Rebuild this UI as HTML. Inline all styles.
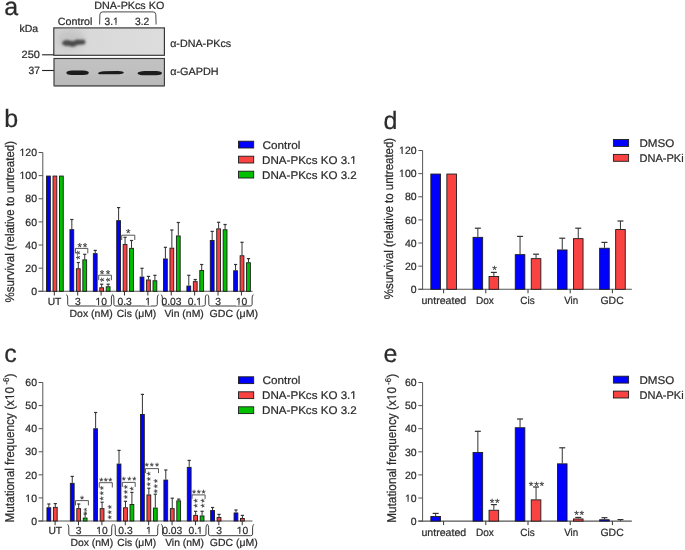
<!DOCTYPE html>
<html><head><meta charset="utf-8"><style>
html,body{margin:0;padding:0;background:#fff;}
svg{display:block;opacity:0.999;}
text{font-family:"Liberation Sans",sans-serif;stroke:#2b2b2b;stroke-width:0.22px;text-rendering:geometricPrecision;}
</style></head><body>
<svg width="685" height="550" viewBox="0 0 685 550">
<rect width="685" height="550" fill="#fff"/>
<text x="4.14" y="15.0" font-size="25" fill="#2b2b2b">a</text>
<text x="4.29" y="127.0" font-size="25" fill="#2b2b2b">b</text>
<text x="4.34" y="362.2" font-size="25" fill="#2b2b2b">c</text>
<text x="383.45" y="129.0" font-size="25" fill="#2b2b2b">d</text>
<text x="383.44" y="362.4" font-size="25" fill="#2b2b2b">e</text>
<text x="19.41" y="31.70" font-size="10.3" fill="#2b2b2b" textLength="18.69" lengthAdjust="spacingAndGlyphs" >kDa</text>
<text x="57.77" y="24.50" font-size="10.5" fill="#2b2b2b" textLength="34.54" lengthAdjust="spacingAndGlyphs" >Control</text>
<text x="94.34" y="9.00" font-size="10.5" fill="#2b2b2b" textLength="69.96" lengthAdjust="spacingAndGlyphs" >DNA-PKcs KO</text>
<text x="104.50" y="24.50" font-size="10.5" fill="#2b2b2b" textLength="14.11" lengthAdjust="spacingAndGlyphs" >3.1</text>
<text x="135.00" y="24.50" font-size="10.5" fill="#2b2b2b" textLength="14.33" lengthAdjust="spacingAndGlyphs" >3.2</text>
<path d="M99.6,24.5 L99.9,14.5 Q100.2,11.9 102.6,11.9 L153.2,11.9 Q155.6,11.9 155.8,14.5 L156.1,24.5" stroke="#333" stroke-width="0.9" fill="none"/>
<text x="21.57" y="57.70" font-size="10.5" fill="#2b2b2b" textLength="18.34" lengthAdjust="spacingAndGlyphs" >250</text>
<text x="28.60" y="73.80" font-size="10.5" fill="#2b2b2b" textLength="11.43" lengthAdjust="spacingAndGlyphs" >37</text>
<line x1="42.10" y1="54.80" x2="54.00" y2="54.80" stroke="#222" stroke-width="1.1"/>
<line x1="42.10" y1="70.50" x2="54.00" y2="70.50" stroke="#222" stroke-width="1.1"/>
<text x="170.16" y="46.50" font-size="10.5" fill="#2b2b2b" textLength="61.02" lengthAdjust="spacingAndGlyphs" >α-DNA-PKcs</text>
<text x="170.16" y="74.50" font-size="10.5" fill="#2b2b2b" textLength="48.40" lengthAdjust="spacingAndGlyphs" >α-GAPDH</text>

<defs>
<linearGradient id="g1" x1="0" x2="1" y1="0" y2="0">
<stop offset="0" stop-color="#d2d2d2"/><stop offset="0.3" stop-color="#d9d9d9"/><stop offset="1" stop-color="#dddddd"/></linearGradient>
<linearGradient id="g2" x1="0" x2="0" y1="0" y2="1">
<stop offset="0" stop-color="#c2c2c2"/><stop offset="0.5" stop-color="#bfbfbf"/><stop offset="1" stop-color="#b8b8b8"/></linearGradient>
<filter id="bl1" filterUnits="userSpaceOnUse" x="40" y="20" width="140" height="80"><feGaussianBlur stdDeviation="1.15"/></filter>
<filter id="bl2" filterUnits="userSpaceOnUse" x="40" y="20" width="140" height="80"><feGaussianBlur stdDeviation="0.75"/></filter>
<filter id="bl3" filterUnits="userSpaceOnUse" x="40" y="20" width="140" height="80"><feGaussianBlur stdDeviation="3"/></filter>
</defs>
<rect x="53.8" y="27.9" width="110.6" height="27.4" fill="url(#g1)" stroke="#333" stroke-width="1.15"/>
<ellipse cx="71" cy="39" rx="14" ry="10" fill="#b4b4b4" filter="url(#bl3)" opacity="0.45"/>
<g filter="url(#bl1)" fill="#4c4c4c">
<ellipse cx="67.2" cy="43.0" rx="5.2" ry="3.0"/>
<ellipse cx="72.5" cy="43.8" rx="4.4" ry="3.0"/>
<ellipse cx="78" cy="42.2" rx="4.2" ry="2.7"/>
<ellipse cx="82.4" cy="42" rx="3.0" ry="2.6"/>
</g>
<rect x="54.0" y="58.5" width="110.4" height="27.3" fill="url(#g2)" stroke="#3a3a3a" stroke-width="1.15"/>
<line x1="54" y1="85.8" x2="164.4" y2="85.8" stroke="#666" stroke-width="1.2"/>
<g filter="url(#bl2)" fill="#1a1a1a">
<path d="M66.3,72.7 Q66.8,70.5 72,70.4 L83,70.4 Q88.6,70.6 88.8,72.7 Q88.6,74.9 83,74.9 L72,74.9 Q66.8,74.9 66.3,72.7 Z"/>
<path d="M97.9,73.4 Q99,71.6 104,71.3 L118,70.9 Q123.6,71.0 123.8,72.6 Q123.4,74.4 118,74.3 L104,74.2 Q99,74.7 97.9,73.4 Z"/>
<path d="M137.4,73.2 Q138.5,71.0 145,70.9 L156,70.9 Q161.8,71.1 162.0,73.1 Q161.6,75.3 156,75.3 L145,75.3 Q138.5,75.4 137.4,73.2 Z"/>
</g>

<line x1="42.80" y1="152.50" x2="42.80" y2="291.80" stroke="#555" stroke-width="1"/>
<line x1="38.30" y1="291.30" x2="252.50" y2="291.30" stroke="#555" stroke-width="1.1"/>
<line x1="38.60" y1="291.30" x2="42.80" y2="291.30" stroke="#555" stroke-width="1"/>
<text x="31.17" y="295.00" font-size="10.5" fill="#2b2b2b" textLength="5.84" lengthAdjust="spacingAndGlyphs" >0</text>
<line x1="38.60" y1="268.17" x2="42.80" y2="268.17" stroke="#555" stroke-width="1"/>
<text x="25.33" y="271.87" font-size="10.5" fill="#2b2b2b" textLength="11.68" lengthAdjust="spacingAndGlyphs" >20</text>
<line x1="38.60" y1="245.03" x2="42.80" y2="245.03" stroke="#555" stroke-width="1"/>
<text x="25.33" y="248.73" font-size="10.5" fill="#2b2b2b" textLength="11.68" lengthAdjust="spacingAndGlyphs" >40</text>
<line x1="38.60" y1="221.90" x2="42.80" y2="221.90" stroke="#555" stroke-width="1"/>
<text x="25.33" y="225.60" font-size="10.5" fill="#2b2b2b" textLength="11.68" lengthAdjust="spacingAndGlyphs" >60</text>
<line x1="38.60" y1="198.77" x2="42.80" y2="198.77" stroke="#555" stroke-width="1"/>
<text x="25.33" y="202.47" font-size="10.5" fill="#2b2b2b" textLength="11.68" lengthAdjust="spacingAndGlyphs" >80</text>
<line x1="38.60" y1="175.63" x2="42.80" y2="175.63" stroke="#555" stroke-width="1"/>
<text x="19.49" y="179.33" font-size="10.5" fill="#2b2b2b" textLength="17.52" lengthAdjust="spacingAndGlyphs" >100</text>
<line x1="38.60" y1="152.50" x2="42.80" y2="152.50" stroke="#555" stroke-width="1"/>
<text x="19.49" y="156.20" font-size="10.5" fill="#2b2b2b" textLength="17.52" lengthAdjust="spacingAndGlyphs" >120</text>
<rect x="46.55" y="176.05" width="3.80" height="115.25" fill="#0000ff" stroke="#1c1c1c" stroke-width="0.9"/>
<rect x="53.00" y="176.05" width="3.80" height="115.25" fill="#f94242" stroke="#1c1c1c" stroke-width="0.9"/>
<rect x="59.45" y="176.05" width="3.80" height="115.25" fill="#00c000" stroke="#1c1c1c" stroke-width="0.9"/>
<rect x="69.94" y="229.65" width="3.80" height="61.65" fill="#0000ff" stroke="#1c1c1c" stroke-width="0.9"/>
<line x1="71.84" y1="229.20" x2="71.84" y2="219.50" stroke="#333" stroke-width="1"/>
<line x1="70.24" y1="219.50" x2="73.44" y2="219.50" stroke="#333" stroke-width="1.2"/>
<rect x="76.39" y="268.75" width="3.80" height="22.55" fill="#f94242" stroke="#1c1c1c" stroke-width="0.9"/>
<line x1="78.29" y1="268.30" x2="78.29" y2="262.50" stroke="#333" stroke-width="1"/>
<line x1="76.69" y1="262.50" x2="79.89" y2="262.50" stroke="#333" stroke-width="1.2"/>
<rect x="82.84" y="259.85" width="3.80" height="31.45" fill="#00c000" stroke="#1c1c1c" stroke-width="0.9"/>
<line x1="84.74" y1="259.40" x2="84.74" y2="254.30" stroke="#333" stroke-width="1"/>
<line x1="83.14" y1="254.30" x2="86.34" y2="254.30" stroke="#333" stroke-width="1.2"/>
<rect x="93.33" y="253.65" width="3.80" height="37.65" fill="#0000ff" stroke="#1c1c1c" stroke-width="0.9"/>
<line x1="95.23" y1="253.20" x2="95.23" y2="250.40" stroke="#333" stroke-width="1"/>
<line x1="93.63" y1="250.40" x2="96.83" y2="250.40" stroke="#333" stroke-width="1.2"/>
<rect x="99.78" y="287.75" width="3.80" height="3.55" fill="#f94242" stroke="#1c1c1c" stroke-width="0.9"/>
<line x1="101.68" y1="287.30" x2="101.68" y2="284.20" stroke="#333" stroke-width="1"/>
<line x1="100.08" y1="284.20" x2="103.28" y2="284.20" stroke="#333" stroke-width="1.2"/>
<rect x="106.23" y="286.75" width="3.80" height="4.55" fill="#00c000" stroke="#1c1c1c" stroke-width="0.9"/>
<line x1="108.13" y1="286.30" x2="108.13" y2="284.20" stroke="#333" stroke-width="1"/>
<line x1="106.53" y1="284.20" x2="109.73" y2="284.20" stroke="#333" stroke-width="1.2"/>
<rect x="116.72" y="220.65" width="3.80" height="70.65" fill="#0000ff" stroke="#1c1c1c" stroke-width="0.9"/>
<line x1="118.62" y1="220.20" x2="118.62" y2="207.60" stroke="#333" stroke-width="1"/>
<line x1="117.02" y1="207.60" x2="120.22" y2="207.60" stroke="#333" stroke-width="1.2"/>
<rect x="123.17" y="244.55" width="3.80" height="46.75" fill="#f94242" stroke="#1c1c1c" stroke-width="0.9"/>
<line x1="125.07" y1="244.10" x2="125.07" y2="237.30" stroke="#333" stroke-width="1"/>
<line x1="123.47" y1="237.30" x2="126.67" y2="237.30" stroke="#333" stroke-width="1.2"/>
<rect x="129.62" y="248.35" width="3.80" height="42.95" fill="#00c000" stroke="#1c1c1c" stroke-width="0.9"/>
<line x1="131.52" y1="247.90" x2="131.52" y2="240.50" stroke="#333" stroke-width="1"/>
<line x1="129.92" y1="240.50" x2="133.12" y2="240.50" stroke="#333" stroke-width="1.2"/>
<rect x="140.11" y="277.05" width="3.80" height="14.25" fill="#0000ff" stroke="#1c1c1c" stroke-width="0.9"/>
<line x1="142.01" y1="276.60" x2="142.01" y2="268.30" stroke="#333" stroke-width="1"/>
<line x1="140.41" y1="268.30" x2="143.61" y2="268.30" stroke="#333" stroke-width="1.2"/>
<rect x="146.56" y="279.95" width="3.80" height="11.35" fill="#f94242" stroke="#1c1c1c" stroke-width="0.9"/>
<line x1="148.46" y1="279.50" x2="148.46" y2="276.40" stroke="#333" stroke-width="1"/>
<line x1="146.86" y1="276.40" x2="150.06" y2="276.40" stroke="#333" stroke-width="1.2"/>
<rect x="153.01" y="280.75" width="3.80" height="10.55" fill="#00c000" stroke="#1c1c1c" stroke-width="0.9"/>
<line x1="154.91" y1="280.30" x2="154.91" y2="275.30" stroke="#333" stroke-width="1"/>
<line x1="153.31" y1="275.30" x2="156.51" y2="275.30" stroke="#333" stroke-width="1.2"/>
<rect x="163.50" y="258.95" width="3.80" height="32.35" fill="#0000ff" stroke="#1c1c1c" stroke-width="0.9"/>
<line x1="165.40" y1="258.50" x2="165.40" y2="247.30" stroke="#333" stroke-width="1"/>
<line x1="163.80" y1="247.30" x2="167.00" y2="247.30" stroke="#333" stroke-width="1.2"/>
<rect x="169.95" y="248.15" width="3.80" height="43.15" fill="#f94242" stroke="#1c1c1c" stroke-width="0.9"/>
<line x1="171.85" y1="247.70" x2="171.85" y2="230.00" stroke="#333" stroke-width="1"/>
<line x1="170.25" y1="230.00" x2="173.45" y2="230.00" stroke="#333" stroke-width="1.2"/>
<rect x="176.40" y="235.95" width="3.80" height="55.35" fill="#00c000" stroke="#1c1c1c" stroke-width="0.9"/>
<line x1="178.30" y1="235.50" x2="178.30" y2="222.50" stroke="#333" stroke-width="1"/>
<line x1="176.70" y1="222.50" x2="179.90" y2="222.50" stroke="#333" stroke-width="1.2"/>
<rect x="186.89" y="286.05" width="3.80" height="5.25" fill="#0000ff" stroke="#1c1c1c" stroke-width="0.9"/>
<line x1="188.79" y1="285.60" x2="188.79" y2="275.30" stroke="#333" stroke-width="1"/>
<line x1="187.19" y1="275.30" x2="190.39" y2="275.30" stroke="#333" stroke-width="1.2"/>
<rect x="193.34" y="281.65" width="3.80" height="9.65" fill="#f94242" stroke="#1c1c1c" stroke-width="0.9"/>
<line x1="195.24" y1="281.20" x2="195.24" y2="279.50" stroke="#333" stroke-width="1"/>
<line x1="193.64" y1="279.50" x2="196.84" y2="279.50" stroke="#333" stroke-width="1.2"/>
<rect x="199.79" y="270.55" width="3.80" height="20.75" fill="#00c000" stroke="#1c1c1c" stroke-width="0.9"/>
<line x1="201.69" y1="270.10" x2="201.69" y2="264.50" stroke="#333" stroke-width="1"/>
<line x1="200.09" y1="264.50" x2="203.29" y2="264.50" stroke="#333" stroke-width="1.2"/>
<rect x="210.28" y="240.45" width="3.80" height="50.85" fill="#0000ff" stroke="#1c1c1c" stroke-width="0.9"/>
<line x1="212.18" y1="240.00" x2="212.18" y2="231.40" stroke="#333" stroke-width="1"/>
<line x1="210.58" y1="231.40" x2="213.78" y2="231.40" stroke="#333" stroke-width="1.2"/>
<rect x="216.73" y="228.85" width="3.80" height="62.45" fill="#f94242" stroke="#1c1c1c" stroke-width="0.9"/>
<line x1="218.63" y1="228.40" x2="218.63" y2="222.30" stroke="#333" stroke-width="1"/>
<line x1="217.03" y1="222.30" x2="220.23" y2="222.30" stroke="#333" stroke-width="1.2"/>
<rect x="223.18" y="229.75" width="3.80" height="61.55" fill="#00c000" stroke="#1c1c1c" stroke-width="0.9"/>
<line x1="225.08" y1="229.30" x2="225.08" y2="224.50" stroke="#333" stroke-width="1"/>
<line x1="223.48" y1="224.50" x2="226.68" y2="224.50" stroke="#333" stroke-width="1.2"/>
<rect x="233.67" y="270.75" width="3.80" height="20.55" fill="#0000ff" stroke="#1c1c1c" stroke-width="0.9"/>
<line x1="235.57" y1="270.30" x2="235.57" y2="264.50" stroke="#333" stroke-width="1"/>
<line x1="233.97" y1="264.50" x2="237.17" y2="264.50" stroke="#333" stroke-width="1.2"/>
<rect x="240.12" y="255.75" width="3.80" height="35.55" fill="#f94242" stroke="#1c1c1c" stroke-width="0.9"/>
<line x1="242.02" y1="255.30" x2="242.02" y2="242.30" stroke="#333" stroke-width="1"/>
<line x1="240.42" y1="242.30" x2="243.62" y2="242.30" stroke="#333" stroke-width="1.2"/>
<rect x="246.57" y="262.75" width="3.80" height="28.55" fill="#00c000" stroke="#1c1c1c" stroke-width="0.9"/>
<line x1="248.47" y1="262.30" x2="248.47" y2="258.60" stroke="#333" stroke-width="1"/>
<line x1="246.87" y1="258.60" x2="250.07" y2="258.60" stroke="#333" stroke-width="1.2"/>
<line x1="54.30" y1="291.30" x2="54.30" y2="295.50" stroke="#333" stroke-width="1"/>
<line x1="77.69" y1="291.30" x2="77.69" y2="295.50" stroke="#333" stroke-width="1"/>
<line x1="101.08" y1="291.30" x2="101.08" y2="295.50" stroke="#333" stroke-width="1"/>
<line x1="124.47" y1="291.30" x2="124.47" y2="295.50" stroke="#333" stroke-width="1"/>
<line x1="147.86" y1="291.30" x2="147.86" y2="295.50" stroke="#333" stroke-width="1"/>
<line x1="171.25" y1="291.30" x2="171.25" y2="295.50" stroke="#333" stroke-width="1"/>
<line x1="194.64" y1="291.30" x2="194.64" y2="295.50" stroke="#333" stroke-width="1"/>
<line x1="218.03" y1="291.30" x2="218.03" y2="295.50" stroke="#333" stroke-width="1"/>
<line x1="241.42" y1="291.30" x2="241.42" y2="295.50" stroke="#333" stroke-width="1"/>
<text x="54.50" y="304.70" font-size="10.3" fill="#2b2b2b" text-anchor="middle">UT</text>
<text x="77.89" y="304.70" font-size="10.3" fill="#2b2b2b" text-anchor="middle">3</text>
<text x="101.28" y="304.70" font-size="10.3" fill="#2b2b2b" text-anchor="middle">10</text>
<text x="124.67" y="304.70" font-size="10.3" fill="#2b2b2b" text-anchor="middle">0.3</text>
<text x="148.06" y="304.70" font-size="10.3" fill="#2b2b2b" text-anchor="middle">1</text>
<text x="171.45" y="304.70" font-size="10.3" fill="#2b2b2b" text-anchor="middle">0.03</text>
<text x="194.84" y="304.70" font-size="10.3" fill="#2b2b2b" text-anchor="middle">0.1</text>
<text x="218.23" y="304.70" font-size="10.3" fill="#2b2b2b" text-anchor="middle">3</text>
<text x="241.62" y="304.70" font-size="10.3" fill="#2b2b2b" text-anchor="middle">10</text>
<path d="M66.50,294.60 Q67.70,295.80 67.70,298.10 L67.70,304.40 Q67.70,306.00 69.70,306.00 L109.40,306.00 Q111.40,306.00 111.40,304.40 L111.40,298.10 Q111.40,295.80 112.60,294.60" stroke="#333" stroke-width="0.95" fill="none"/>
<path d="M112.70,294.60 Q113.90,295.80 113.90,298.10 L113.90,304.40 Q113.90,306.00 115.90,306.00 L155.30,306.00 Q157.30,306.00 157.30,304.40 L157.30,298.10 Q157.30,295.80 158.50,294.60" stroke="#333" stroke-width="0.95" fill="none"/>
<path d="M161.20,294.60 Q162.40,295.80 162.40,298.10 L162.40,304.40 Q162.40,306.00 164.40,306.00 L203.30,306.00 Q205.30,306.00 205.30,304.40 L205.30,298.10 Q205.30,295.80 206.50,294.60" stroke="#333" stroke-width="0.95" fill="none"/>
<path d="M207.60,294.60 Q208.80,295.80 208.80,298.10 L208.80,304.40 Q208.80,306.00 210.80,306.00 L250.10,306.00 Q252.10,306.00 252.10,304.40 L252.10,298.10 Q252.10,295.80 253.30,294.60" stroke="#333" stroke-width="0.95" fill="none"/>
<text x="69.56" y="316.90" font-size="10.3" fill="#2b2b2b" textLength="43.08" lengthAdjust="spacingAndGlyphs" >Dox (nM)</text>
<text x="116.88" y="316.90" font-size="10.3" fill="#2b2b2b" textLength="39.36" lengthAdjust="spacingAndGlyphs" >Cis (μM)</text>
<text x="164.55" y="316.90" font-size="10.3" fill="#2b2b2b" textLength="39.28" lengthAdjust="spacingAndGlyphs" >Vin (nM)</text>
<text x="209.48" y="316.90" font-size="10.3" fill="#2b2b2b" textLength="48.56" lengthAdjust="spacingAndGlyphs" >GDC (μM)</text>
<rect x="238.5" y="141.20" width="15.2" height="6.8" fill="#0000ff" stroke="#1c1c1c" stroke-width="0.9"/>
<text x="262.43" y="148.60" font-size="11.2" fill="#2b2b2b" textLength="37.92" lengthAdjust="spacingAndGlyphs" >Control</text>
<rect x="238.5" y="156.20" width="15.2" height="6.8" fill="#f94242" stroke="#1c1c1c" stroke-width="0.9"/>
<text x="262.08" y="163.60" font-size="11.2" fill="#2b2b2b" textLength="94.67" lengthAdjust="spacingAndGlyphs" >DNA-PKcs KO 3.1</text>
<rect x="238.5" y="171.20" width="15.2" height="6.8" fill="#00c000" stroke="#1c1c1c" stroke-width="0.9"/>
<text x="262.08" y="178.60" font-size="11.2" fill="#2b2b2b" textLength="94.68" lengthAdjust="spacingAndGlyphs" >DNA-PKcs KO 3.2</text>
<path d="M75.40,253.40 L75.40,248.40 L87.80,248.40 L87.80,253.40" stroke="#444" stroke-width="0.9" fill="none"/>
<path d="M98.70,280.20 L98.70,275.20 L111.40,275.20 L111.40,280.20" stroke="#444" stroke-width="0.9" fill="none"/>
<path d="M121.70,240.00 L121.70,235.20 L134.80,235.20 L134.80,240.00" stroke="#444" stroke-width="0.9" fill="none"/>
<text x="77.56" y="251.39" font-size="11.5" fill="#333" style="stroke-width:0.1px">*</text>
<text x="82.76" y="251.39" font-size="11.5" fill="#333" style="stroke-width:0.1px">*</text>
<text x="76.36" y="258.69" font-size="11.5" fill="#333" style="stroke-width:0.1px" transform="rotate(-90 78.60 252.80)">*</text>
<text x="76.36" y="263.49" font-size="11.5" fill="#333" style="stroke-width:0.1px" transform="rotate(-90 78.60 257.60)">*</text>
<text x="99.86" y="277.99" font-size="11.5" fill="#333" style="stroke-width:0.1px">*</text>
<text x="105.86" y="277.99" font-size="11.5" fill="#333" style="stroke-width:0.1px">*</text>
<text x="99.56" y="285.69" font-size="11.5" fill="#333" style="stroke-width:0.1px" transform="rotate(-90 101.80 279.80)">*</text>
<text x="106.16" y="285.69" font-size="11.5" fill="#333" style="stroke-width:0.1px" transform="rotate(-90 108.40 279.80)">*</text>
<text x="126.06" y="237.49" font-size="11.5" fill="#333" style="stroke-width:0.1px">*</text>
<line x1="42.80" y1="382.50" x2="42.80" y2="521.50" stroke="#555" stroke-width="1"/>
<line x1="38.30" y1="521.00" x2="252.50" y2="521.00" stroke="#555" stroke-width="1.1"/>
<line x1="38.60" y1="521.00" x2="42.80" y2="521.00" stroke="#555" stroke-width="1"/>
<text x="31.17" y="524.70" font-size="10.5" fill="#2b2b2b" textLength="5.84" lengthAdjust="spacingAndGlyphs" >0</text>
<line x1="38.60" y1="497.92" x2="42.80" y2="497.92" stroke="#555" stroke-width="1"/>
<text x="25.33" y="501.62" font-size="10.5" fill="#2b2b2b" textLength="11.68" lengthAdjust="spacingAndGlyphs" >10</text>
<line x1="38.60" y1="474.83" x2="42.80" y2="474.83" stroke="#555" stroke-width="1"/>
<text x="25.33" y="478.53" font-size="10.5" fill="#2b2b2b" textLength="11.68" lengthAdjust="spacingAndGlyphs" >20</text>
<line x1="38.60" y1="451.75" x2="42.80" y2="451.75" stroke="#555" stroke-width="1"/>
<text x="25.33" y="455.45" font-size="10.5" fill="#2b2b2b" textLength="11.68" lengthAdjust="spacingAndGlyphs" >30</text>
<line x1="38.60" y1="428.67" x2="42.80" y2="428.67" stroke="#555" stroke-width="1"/>
<text x="25.33" y="432.37" font-size="10.5" fill="#2b2b2b" textLength="11.68" lengthAdjust="spacingAndGlyphs" >40</text>
<line x1="38.60" y1="405.58" x2="42.80" y2="405.58" stroke="#555" stroke-width="1"/>
<text x="25.33" y="409.28" font-size="10.5" fill="#2b2b2b" textLength="11.68" lengthAdjust="spacingAndGlyphs" >50</text>
<line x1="38.60" y1="382.50" x2="42.80" y2="382.50" stroke="#555" stroke-width="1"/>
<text x="25.33" y="386.20" font-size="10.5" fill="#2b2b2b" textLength="11.68" lengthAdjust="spacingAndGlyphs" >60</text>
<rect x="46.95" y="507.75" width="3.80" height="13.25" fill="#0000ff" stroke="#1c1c1c" stroke-width="0.9"/>
<line x1="48.85" y1="507.30" x2="48.85" y2="504.00" stroke="#333" stroke-width="1"/>
<line x1="47.25" y1="504.00" x2="50.45" y2="504.00" stroke="#333" stroke-width="1.2"/>
<rect x="53.40" y="507.35" width="3.80" height="13.65" fill="#f94242" stroke="#1c1c1c" stroke-width="0.9"/>
<line x1="55.30" y1="506.90" x2="55.30" y2="503.60" stroke="#333" stroke-width="1"/>
<line x1="53.70" y1="503.60" x2="56.90" y2="503.60" stroke="#333" stroke-width="1.2"/>
<rect x="70.34" y="483.35" width="3.80" height="37.65" fill="#0000ff" stroke="#1c1c1c" stroke-width="0.9"/>
<line x1="72.24" y1="482.90" x2="72.24" y2="476.40" stroke="#333" stroke-width="1"/>
<line x1="70.64" y1="476.40" x2="73.84" y2="476.40" stroke="#333" stroke-width="1.2"/>
<rect x="76.79" y="508.65" width="3.80" height="12.35" fill="#f94242" stroke="#1c1c1c" stroke-width="0.9"/>
<line x1="78.69" y1="508.20" x2="78.69" y2="504.00" stroke="#333" stroke-width="1"/>
<line x1="77.09" y1="504.00" x2="80.29" y2="504.00" stroke="#333" stroke-width="1.2"/>
<rect x="83.24" y="518.05" width="3.80" height="2.95" fill="#00c000" stroke="#1c1c1c" stroke-width="0.9"/>
<line x1="85.14" y1="517.60" x2="85.14" y2="514.00" stroke="#333" stroke-width="1"/>
<line x1="83.54" y1="514.00" x2="86.74" y2="514.00" stroke="#333" stroke-width="1.2"/>
<rect x="93.73" y="428.75" width="3.80" height="92.25" fill="#0000ff" stroke="#1c1c1c" stroke-width="0.9"/>
<line x1="95.63" y1="428.30" x2="95.63" y2="412.50" stroke="#333" stroke-width="1"/>
<line x1="94.03" y1="412.50" x2="97.23" y2="412.50" stroke="#333" stroke-width="1.2"/>
<rect x="100.18" y="508.65" width="3.80" height="12.35" fill="#f94242" stroke="#1c1c1c" stroke-width="0.9"/>
<line x1="102.08" y1="508.20" x2="102.08" y2="502.20" stroke="#333" stroke-width="1"/>
<line x1="100.48" y1="502.20" x2="103.68" y2="502.20" stroke="#333" stroke-width="1.2"/>
<rect x="117.12" y="464.05" width="3.80" height="56.95" fill="#0000ff" stroke="#1c1c1c" stroke-width="0.9"/>
<line x1="119.02" y1="463.60" x2="119.02" y2="450.40" stroke="#333" stroke-width="1"/>
<line x1="117.42" y1="450.40" x2="120.62" y2="450.40" stroke="#333" stroke-width="1.2"/>
<rect x="123.57" y="507.75" width="3.80" height="13.25" fill="#f94242" stroke="#1c1c1c" stroke-width="0.9"/>
<line x1="125.47" y1="507.30" x2="125.47" y2="501.30" stroke="#333" stroke-width="1"/>
<line x1="123.87" y1="501.30" x2="127.07" y2="501.30" stroke="#333" stroke-width="1.2"/>
<rect x="130.02" y="504.45" width="3.80" height="16.55" fill="#00c000" stroke="#1c1c1c" stroke-width="0.9"/>
<line x1="131.92" y1="504.00" x2="131.92" y2="492.40" stroke="#333" stroke-width="1"/>
<line x1="130.32" y1="492.40" x2="133.52" y2="492.40" stroke="#333" stroke-width="1.2"/>
<rect x="140.51" y="414.45" width="3.80" height="106.55" fill="#0000ff" stroke="#1c1c1c" stroke-width="0.9"/>
<line x1="142.41" y1="414.00" x2="142.41" y2="394.40" stroke="#333" stroke-width="1"/>
<line x1="140.81" y1="394.40" x2="144.01" y2="394.40" stroke="#333" stroke-width="1.2"/>
<rect x="146.96" y="494.95" width="3.80" height="26.05" fill="#f94242" stroke="#1c1c1c" stroke-width="0.9"/>
<line x1="148.86" y1="494.50" x2="148.86" y2="488.20" stroke="#333" stroke-width="1"/>
<line x1="147.26" y1="488.20" x2="150.46" y2="488.20" stroke="#333" stroke-width="1.2"/>
<rect x="153.41" y="508.05" width="3.80" height="12.95" fill="#00c000" stroke="#1c1c1c" stroke-width="0.9"/>
<line x1="155.31" y1="507.60" x2="155.31" y2="494.20" stroke="#333" stroke-width="1"/>
<line x1="153.71" y1="494.20" x2="156.91" y2="494.20" stroke="#333" stroke-width="1.2"/>
<rect x="163.90" y="480.05" width="3.80" height="40.95" fill="#0000ff" stroke="#1c1c1c" stroke-width="0.9"/>
<line x1="165.80" y1="479.60" x2="165.80" y2="470.00" stroke="#333" stroke-width="1"/>
<line x1="164.20" y1="470.00" x2="167.40" y2="470.00" stroke="#333" stroke-width="1.2"/>
<rect x="170.35" y="508.65" width="3.80" height="12.35" fill="#f94242" stroke="#1c1c1c" stroke-width="0.9"/>
<line x1="172.25" y1="508.20" x2="172.25" y2="498.20" stroke="#333" stroke-width="1"/>
<line x1="170.65" y1="498.20" x2="173.85" y2="498.20" stroke="#333" stroke-width="1.2"/>
<rect x="176.80" y="500.85" width="3.80" height="20.15" fill="#00c000" stroke="#1c1c1c" stroke-width="0.9"/>
<line x1="178.70" y1="500.40" x2="178.70" y2="499.10" stroke="#333" stroke-width="1"/>
<line x1="177.10" y1="499.10" x2="180.30" y2="499.10" stroke="#333" stroke-width="1.2"/>
<rect x="187.29" y="467.35" width="3.80" height="53.65" fill="#0000ff" stroke="#1c1c1c" stroke-width="0.9"/>
<line x1="189.19" y1="466.90" x2="189.19" y2="460.40" stroke="#333" stroke-width="1"/>
<line x1="187.59" y1="460.40" x2="190.79" y2="460.40" stroke="#333" stroke-width="1.2"/>
<rect x="193.74" y="515.35" width="3.80" height="5.65" fill="#f94242" stroke="#1c1c1c" stroke-width="0.9"/>
<line x1="195.64" y1="514.90" x2="195.64" y2="511.30" stroke="#333" stroke-width="1"/>
<line x1="194.04" y1="511.30" x2="197.24" y2="511.30" stroke="#333" stroke-width="1.2"/>
<rect x="200.19" y="515.95" width="3.80" height="5.05" fill="#00c000" stroke="#1c1c1c" stroke-width="0.9"/>
<line x1="202.09" y1="515.50" x2="202.09" y2="511.30" stroke="#333" stroke-width="1"/>
<line x1="200.49" y1="511.30" x2="203.69" y2="511.30" stroke="#333" stroke-width="1.2"/>
<rect x="210.68" y="510.45" width="3.80" height="10.55" fill="#0000ff" stroke="#1c1c1c" stroke-width="0.9"/>
<line x1="212.58" y1="510.00" x2="212.58" y2="507.50" stroke="#333" stroke-width="1"/>
<line x1="210.98" y1="507.50" x2="214.18" y2="507.50" stroke="#333" stroke-width="1.2"/>
<rect x="217.13" y="517.45" width="3.80" height="3.55" fill="#f94242" stroke="#1c1c1c" stroke-width="0.9"/>
<line x1="219.03" y1="517.00" x2="219.03" y2="514.40" stroke="#333" stroke-width="1"/>
<line x1="217.43" y1="514.40" x2="220.63" y2="514.40" stroke="#333" stroke-width="1.2"/>
<rect x="234.07" y="512.95" width="3.80" height="8.05" fill="#0000ff" stroke="#1c1c1c" stroke-width="0.9"/>
<line x1="235.97" y1="512.50" x2="235.97" y2="510.00" stroke="#333" stroke-width="1"/>
<line x1="234.37" y1="510.00" x2="237.57" y2="510.00" stroke="#333" stroke-width="1.2"/>
<rect x="240.52" y="518.45" width="3.80" height="2.55" fill="#f94242" stroke="#1c1c1c" stroke-width="0.9"/>
<line x1="242.42" y1="518.00" x2="242.42" y2="515.40" stroke="#333" stroke-width="1"/>
<line x1="240.82" y1="515.40" x2="244.02" y2="515.40" stroke="#333" stroke-width="1.2"/>
<line x1="55.10" y1="521.00" x2="55.10" y2="525.20" stroke="#333" stroke-width="1"/>
<line x1="78.49" y1="521.00" x2="78.49" y2="525.20" stroke="#333" stroke-width="1"/>
<line x1="101.88" y1="521.00" x2="101.88" y2="525.20" stroke="#333" stroke-width="1"/>
<line x1="125.27" y1="521.00" x2="125.27" y2="525.20" stroke="#333" stroke-width="1"/>
<line x1="148.66" y1="521.00" x2="148.66" y2="525.20" stroke="#333" stroke-width="1"/>
<line x1="172.05" y1="521.00" x2="172.05" y2="525.20" stroke="#333" stroke-width="1"/>
<line x1="195.44" y1="521.00" x2="195.44" y2="525.20" stroke="#333" stroke-width="1"/>
<line x1="218.83" y1="521.00" x2="218.83" y2="525.20" stroke="#333" stroke-width="1"/>
<line x1="242.22" y1="521.00" x2="242.22" y2="525.20" stroke="#333" stroke-width="1"/>
<text x="55.30" y="533.50" font-size="10.3" fill="#2b2b2b" text-anchor="middle">UT</text>
<text x="78.69" y="533.50" font-size="10.3" fill="#2b2b2b" text-anchor="middle">3</text>
<text x="102.08" y="533.50" font-size="10.3" fill="#2b2b2b" text-anchor="middle">10</text>
<text x="125.47" y="533.50" font-size="10.3" fill="#2b2b2b" text-anchor="middle">0.3</text>
<text x="148.86" y="533.50" font-size="10.3" fill="#2b2b2b" text-anchor="middle">1</text>
<text x="172.25" y="533.50" font-size="10.3" fill="#2b2b2b" text-anchor="middle">0.03</text>
<text x="195.64" y="533.50" font-size="10.3" fill="#2b2b2b" text-anchor="middle">0.1</text>
<text x="219.03" y="533.50" font-size="10.3" fill="#2b2b2b" text-anchor="middle">3</text>
<text x="242.42" y="533.50" font-size="10.3" fill="#2b2b2b" text-anchor="middle">10</text>
<path d="M67.60,524.30 Q68.80,525.50 68.80,527.80 L68.80,534.10 Q68.80,535.70 70.80,535.70 L109.70,535.70 Q111.70,535.70 111.70,534.10 L111.70,527.80 Q111.70,525.50 112.90,524.30" stroke="#333" stroke-width="0.95" fill="none"/>
<path d="M114.10,524.30 Q115.30,525.50 115.30,527.80 L115.30,534.10 Q115.30,535.70 117.30,535.70 L155.70,535.70 Q157.70,535.70 157.70,534.10 L157.70,527.80 Q157.70,525.50 158.90,524.30" stroke="#333" stroke-width="0.95" fill="none"/>
<path d="M161.40,524.30 Q162.60,525.50 162.60,527.80 L162.60,534.10 Q162.60,535.70 164.60,535.70 L204.00,535.70 Q206.00,535.70 206.00,534.10 L206.00,527.80 Q206.00,525.50 207.20,524.30" stroke="#333" stroke-width="0.95" fill="none"/>
<path d="M207.40,524.30 Q208.60,525.50 208.60,527.80 L208.60,534.10 Q208.60,535.70 210.60,535.70 L250.60,535.70 Q252.60,535.70 252.60,534.10 L252.60,527.80 Q252.60,525.50 253.80,524.30" stroke="#333" stroke-width="0.95" fill="none"/>
<text x="70.46" y="545.60" font-size="10.3" fill="#2b2b2b" textLength="42.78" lengthAdjust="spacingAndGlyphs" >Dox (nM)</text>
<text x="117.28" y="545.60" font-size="10.3" fill="#2b2b2b" textLength="38.96" lengthAdjust="spacingAndGlyphs" >Cis (μM)</text>
<text x="165.15" y="545.60" font-size="10.3" fill="#2b2b2b" textLength="38.88" lengthAdjust="spacingAndGlyphs" >Vin (nM)</text>
<text x="209.78" y="545.60" font-size="10.3" fill="#2b2b2b" textLength="47.96" lengthAdjust="spacingAndGlyphs" >GDC (μM)</text>
<rect x="238.5" y="376.80" width="15.2" height="6.8" fill="#0000ff" stroke="#1c1c1c" stroke-width="0.9"/>
<text x="262.43" y="384.20" font-size="11.2" fill="#2b2b2b" textLength="37.92" lengthAdjust="spacingAndGlyphs" >Control</text>
<rect x="238.5" y="391.80" width="15.2" height="6.8" fill="#f94242" stroke="#1c1c1c" stroke-width="0.9"/>
<text x="262.08" y="399.20" font-size="11.2" fill="#2b2b2b" textLength="94.67" lengthAdjust="spacingAndGlyphs" >DNA-PKcs KO 3.1</text>
<rect x="238.5" y="406.80" width="15.2" height="6.8" fill="#00c000" stroke="#1c1c1c" stroke-width="0.9"/>
<text x="262.08" y="414.20" font-size="11.2" fill="#2b2b2b" textLength="94.68" lengthAdjust="spacingAndGlyphs" >DNA-PKcs KO 3.2</text>
<path d="M75.50,505.40 L75.50,500.60 L88.40,500.60 L88.40,505.40" stroke="#444" stroke-width="0.9" fill="none"/>
<path d="M99.20,487.50 L99.20,482.70 L112.30,482.70 L112.30,487.50" stroke="#444" stroke-width="0.9" fill="none"/>
<path d="M122.30,486.90 L122.30,482.40 L135.20,482.40 L135.20,486.90" stroke="#444" stroke-width="0.9" fill="none"/>
<path d="M145.40,473.10 L145.40,468.60 L158.50,468.60 L158.50,473.10" stroke="#444" stroke-width="0.9" fill="none"/>
<path d="M192.00,498.90 L192.00,494.90 L205.10,494.90 L205.10,498.90" stroke="#444" stroke-width="0.9" fill="none"/>
<text x="79.95" y="502.98" font-size="10.5" fill="#333" style="stroke-width:0.1px">*</text>
<text x="83.34" y="514.21" font-size="9" fill="#333" style="stroke-width:0.1px" transform="rotate(-90 85.10 509.60)">*</text>
<text x="83.34" y="517.41" font-size="9" fill="#333" style="stroke-width:0.1px" transform="rotate(-90 85.10 512.80)">*</text>
<text x="99.25" y="484.78" font-size="10.5" fill="#333" style="stroke-width:0.1px">*</text>
<text x="103.75" y="484.78" font-size="10.5" fill="#333" style="stroke-width:0.1px">*</text>
<text x="108.35" y="484.78" font-size="10.5" fill="#333" style="stroke-width:0.1px">*</text>
<text x="100.05" y="493.38" font-size="10.5" fill="#333" style="stroke-width:0.1px" transform="rotate(-90 102.10 488.00)">*</text>
<text x="100.05" y="498.58" font-size="10.5" fill="#333" style="stroke-width:0.1px" transform="rotate(-90 102.10 493.20)">*</text>
<text x="100.05" y="503.78" font-size="10.5" fill="#333" style="stroke-width:0.1px" transform="rotate(-90 102.10 498.40)">*</text>
<text x="107.35" y="512.38" font-size="10.5" fill="#333" style="stroke-width:0.1px" transform="rotate(-90 109.40 507.00)">*</text>
<text x="107.35" y="517.48" font-size="10.5" fill="#333" style="stroke-width:0.1px" transform="rotate(-90 109.40 512.10)">*</text>
<text x="107.35" y="522.58" font-size="10.5" fill="#333" style="stroke-width:0.1px" transform="rotate(-90 109.40 517.20)">*</text>
<text x="121.85" y="483.68" font-size="10.5" fill="#333" style="stroke-width:0.1px">*</text>
<text x="127.15" y="483.68" font-size="10.5" fill="#333" style="stroke-width:0.1px">*</text>
<text x="132.25" y="483.68" font-size="10.5" fill="#333" style="stroke-width:0.1px">*</text>
<text x="123.35" y="492.28" font-size="10.5" fill="#333" style="stroke-width:0.1px" transform="rotate(-90 125.40 486.90)">*</text>
<text x="123.35" y="497.28" font-size="10.5" fill="#333" style="stroke-width:0.1px" transform="rotate(-90 125.40 491.90)">*</text>
<text x="123.35" y="502.38" font-size="10.5" fill="#333" style="stroke-width:0.1px" transform="rotate(-90 125.40 497.00)">*</text>
<text x="129.95" y="494.08" font-size="10.5" fill="#333" style="stroke-width:0.1px" transform="rotate(-90 132.00 488.70)">*</text>
<text x="144.85" y="470.48" font-size="10.5" fill="#333" style="stroke-width:0.1px">*</text>
<text x="149.85" y="470.48" font-size="10.5" fill="#333" style="stroke-width:0.1px">*</text>
<text x="154.95" y="470.48" font-size="10.5" fill="#333" style="stroke-width:0.1px">*</text>
<text x="146.65" y="478.98" font-size="10.5" fill="#333" style="stroke-width:0.1px" transform="rotate(-90 148.70 473.60)">*</text>
<text x="146.65" y="484.38" font-size="10.5" fill="#333" style="stroke-width:0.1px" transform="rotate(-90 148.70 479.00)">*</text>
<text x="146.65" y="489.68" font-size="10.5" fill="#333" style="stroke-width:0.1px" transform="rotate(-90 148.70 484.30)">*</text>
<text x="153.65" y="486.28" font-size="10.5" fill="#333" style="stroke-width:0.1px" transform="rotate(-90 155.70 480.90)">*</text>
<text x="153.65" y="491.58" font-size="10.5" fill="#333" style="stroke-width:0.1px" transform="rotate(-90 155.70 486.20)">*</text>
<text x="153.65" y="496.48" font-size="10.5" fill="#333" style="stroke-width:0.1px" transform="rotate(-90 155.70 491.10)">*</text>
<text x="191.95" y="496.98" font-size="10.5" fill="#333" style="stroke-width:0.1px">*</text>
<text x="196.65" y="496.98" font-size="10.5" fill="#333" style="stroke-width:0.1px">*</text>
<text x="201.45" y="496.98" font-size="10.5" fill="#333" style="stroke-width:0.1px">*</text>
<text x="193.75" y="505.98" font-size="10.5" fill="#333" style="stroke-width:0.1px" transform="rotate(-90 195.80 500.60)">*</text>
<text x="193.75" y="511.18" font-size="10.5" fill="#333" style="stroke-width:0.1px" transform="rotate(-90 195.80 505.80)">*</text>
<text x="200.45" y="505.98" font-size="10.5" fill="#333" style="stroke-width:0.1px" transform="rotate(-90 202.50 500.60)">*</text>
<text x="200.45" y="511.18" font-size="10.5" fill="#333" style="stroke-width:0.1px" transform="rotate(-90 202.50 505.80)">*</text>
<text transform="translate(13.50,302.41) rotate(-90) scale(1,1.1)" font-size="11.4" fill="#2b2b2b" textLength="161.41" lengthAdjust="spacingAndGlyphs">%survival (relative to untreated)</text>
<text transform="translate(392.80,299.31) rotate(-90) scale(1,1.1)" font-size="11.4" fill="#2b2b2b" textLength="161.51" lengthAdjust="spacingAndGlyphs">%survival (relative to untreated)</text>
<text transform="translate(13.60,522.60) rotate(-90) scale(1,1.08)" font-size="11.8" fill="#2b2b2b">Mutational frequency (x10<tspan font-size="7.8" dx="2.3" dy="-4.6">-6</tspan><tspan dy="4.6">)</tspan></text>
<text transform="translate(396.00,522.80) rotate(-90) scale(1,1.08)" font-size="11.8" fill="#2b2b2b">Mutational frequency (x10<tspan font-size="7.8" dx="2.3" dy="-4.6">-6</tspan><tspan dy="4.6">)</tspan></text>
<line x1="422.60" y1="150.50" x2="422.60" y2="289.80" stroke="#555" stroke-width="1"/>
<line x1="418.30" y1="289.30" x2="631.80" y2="289.30" stroke="#555" stroke-width="1.1"/>
<line x1="418.40" y1="289.30" x2="422.60" y2="289.30" stroke="#555" stroke-width="1"/>
<text x="410.77" y="293.00" font-size="10.5" fill="#2b2b2b" textLength="5.84" lengthAdjust="spacingAndGlyphs" >0</text>
<line x1="418.40" y1="266.17" x2="422.60" y2="266.17" stroke="#555" stroke-width="1"/>
<text x="404.93" y="269.87" font-size="10.5" fill="#2b2b2b" textLength="11.68" lengthAdjust="spacingAndGlyphs" >20</text>
<line x1="418.40" y1="243.03" x2="422.60" y2="243.03" stroke="#555" stroke-width="1"/>
<text x="404.93" y="246.73" font-size="10.5" fill="#2b2b2b" textLength="11.68" lengthAdjust="spacingAndGlyphs" >40</text>
<line x1="418.40" y1="219.90" x2="422.60" y2="219.90" stroke="#555" stroke-width="1"/>
<text x="404.93" y="223.60" font-size="10.5" fill="#2b2b2b" textLength="11.68" lengthAdjust="spacingAndGlyphs" >60</text>
<line x1="418.40" y1="196.77" x2="422.60" y2="196.77" stroke="#555" stroke-width="1"/>
<text x="404.93" y="200.47" font-size="10.5" fill="#2b2b2b" textLength="11.68" lengthAdjust="spacingAndGlyphs" >80</text>
<line x1="418.40" y1="173.63" x2="422.60" y2="173.63" stroke="#555" stroke-width="1"/>
<text x="399.09" y="177.33" font-size="10.5" fill="#2b2b2b" textLength="17.52" lengthAdjust="spacingAndGlyphs" >100</text>
<line x1="418.40" y1="150.50" x2="422.60" y2="150.50" stroke="#555" stroke-width="1"/>
<text x="399.09" y="154.20" font-size="10.5" fill="#2b2b2b" textLength="17.52" lengthAdjust="spacingAndGlyphs" >120</text>
<line x1="443.60" y1="289.30" x2="443.60" y2="293.30" stroke="#333" stroke-width="1"/>
<rect x="430.85" y="174.05" width="9.60" height="115.25" fill="#0000ff" stroke="#1c1c1c" stroke-width="0.9"/>
<rect x="446.85" y="174.05" width="9.60" height="115.25" fill="#f94242" stroke="#1c1c1c" stroke-width="0.9"/>
<line x1="485.80" y1="289.30" x2="485.80" y2="293.30" stroke="#333" stroke-width="1"/>
<rect x="473.05" y="237.35" width="9.60" height="51.95" fill="#0000ff" stroke="#1c1c1c" stroke-width="0.9"/>
<line x1="477.85" y1="236.90" x2="477.85" y2="228.20" stroke="#333" stroke-width="1"/>
<line x1="474.85" y1="228.20" x2="480.85" y2="228.20" stroke="#333" stroke-width="1.2"/>
<rect x="489.05" y="276.45" width="9.60" height="12.85" fill="#f94242" stroke="#1c1c1c" stroke-width="0.9"/>
<line x1="493.85" y1="276.00" x2="493.85" y2="272.40" stroke="#333" stroke-width="1"/>
<line x1="490.85" y1="272.40" x2="496.85" y2="272.40" stroke="#333" stroke-width="1.2"/>
<line x1="528.00" y1="289.30" x2="528.00" y2="293.30" stroke="#333" stroke-width="1"/>
<rect x="515.25" y="254.65" width="9.60" height="34.65" fill="#0000ff" stroke="#1c1c1c" stroke-width="0.9"/>
<line x1="520.05" y1="254.20" x2="520.05" y2="236.40" stroke="#333" stroke-width="1"/>
<line x1="517.05" y1="236.40" x2="523.05" y2="236.40" stroke="#333" stroke-width="1.2"/>
<rect x="531.25" y="258.65" width="9.60" height="30.65" fill="#f94242" stroke="#1c1c1c" stroke-width="0.9"/>
<line x1="536.05" y1="258.20" x2="536.05" y2="254.20" stroke="#333" stroke-width="1"/>
<line x1="533.05" y1="254.20" x2="539.05" y2="254.20" stroke="#333" stroke-width="1.2"/>
<line x1="570.20" y1="289.30" x2="570.20" y2="293.30" stroke="#333" stroke-width="1"/>
<rect x="557.45" y="249.95" width="9.60" height="39.35" fill="#0000ff" stroke="#1c1c1c" stroke-width="0.9"/>
<line x1="562.25" y1="249.50" x2="562.25" y2="238.20" stroke="#333" stroke-width="1"/>
<line x1="559.25" y1="238.20" x2="565.25" y2="238.20" stroke="#333" stroke-width="1.2"/>
<rect x="573.45" y="238.65" width="9.60" height="50.65" fill="#f94242" stroke="#1c1c1c" stroke-width="0.9"/>
<line x1="578.25" y1="238.20" x2="578.25" y2="228.20" stroke="#333" stroke-width="1"/>
<line x1="575.25" y1="228.20" x2="581.25" y2="228.20" stroke="#333" stroke-width="1.2"/>
<line x1="612.40" y1="289.30" x2="612.40" y2="293.30" stroke="#333" stroke-width="1"/>
<rect x="599.65" y="248.25" width="9.60" height="41.05" fill="#0000ff" stroke="#1c1c1c" stroke-width="0.9"/>
<line x1="604.45" y1="247.80" x2="604.45" y2="242.40" stroke="#333" stroke-width="1"/>
<line x1="601.45" y1="242.40" x2="607.45" y2="242.40" stroke="#333" stroke-width="1.2"/>
<rect x="615.65" y="229.55" width="9.60" height="59.75" fill="#f94242" stroke="#1c1c1c" stroke-width="0.9"/>
<line x1="620.45" y1="229.10" x2="620.45" y2="221.00" stroke="#333" stroke-width="1"/>
<line x1="617.45" y1="221.00" x2="623.45" y2="221.00" stroke="#333" stroke-width="1.2"/>
<text x="421.42" y="303.80" font-size="10.5" fill="#2b2b2b" textLength="44.86" lengthAdjust="spacingAndGlyphs" >untreated</text>
<text x="475.94" y="303.80" font-size="10.5" fill="#2b2b2b" textLength="17.97" lengthAdjust="spacingAndGlyphs" >Dox</text>
<text x="520.37" y="303.80" font-size="10.5" fill="#2b2b2b" textLength="14.51" lengthAdjust="spacingAndGlyphs" >Cis</text>
<text x="564.25" y="303.80" font-size="10.5" fill="#2b2b2b" textLength="14.03" lengthAdjust="spacingAndGlyphs" >Vin</text>
<text x="600.47" y="303.80" font-size="10.5" fill="#2b2b2b" textLength="23.23" lengthAdjust="spacingAndGlyphs" >GDC</text>
<rect x="613.4" y="139.50" width="15.2" height="6.9" fill="#0000ff" stroke="#1c1c1c" stroke-width="0.9"/>
<text x="639.48" y="146.90" font-size="11.2" fill="#2b2b2b" textLength="34.85" lengthAdjust="spacingAndGlyphs" >DMSO</text>
<rect x="613.4" y="154.40" width="15.2" height="6.9" fill="#f94242" stroke="#1c1c1c" stroke-width="0.9"/>
<text x="639.48" y="161.80" font-size="11.2" fill="#2b2b2b" textLength="44.17" lengthAdjust="spacingAndGlyphs" >DNA-PKi</text>
<text x="492.16" y="273.75" font-size="12" fill="#333" style="stroke-width:0.1px">*</text>
<line x1="422.60" y1="382.50" x2="422.60" y2="521.60" stroke="#555" stroke-width="1"/>
<line x1="418.30" y1="521.10" x2="631.80" y2="521.10" stroke="#555" stroke-width="1.1"/>
<line x1="418.40" y1="521.10" x2="422.60" y2="521.10" stroke="#555" stroke-width="1"/>
<text x="410.77" y="524.80" font-size="10.5" fill="#2b2b2b" textLength="5.84" lengthAdjust="spacingAndGlyphs" >0</text>
<line x1="418.40" y1="498.00" x2="422.60" y2="498.00" stroke="#555" stroke-width="1"/>
<text x="404.93" y="501.70" font-size="10.5" fill="#2b2b2b" textLength="11.68" lengthAdjust="spacingAndGlyphs" >10</text>
<line x1="418.40" y1="474.90" x2="422.60" y2="474.90" stroke="#555" stroke-width="1"/>
<text x="404.93" y="478.60" font-size="10.5" fill="#2b2b2b" textLength="11.68" lengthAdjust="spacingAndGlyphs" >20</text>
<line x1="418.40" y1="451.80" x2="422.60" y2="451.80" stroke="#555" stroke-width="1"/>
<text x="404.93" y="455.50" font-size="10.5" fill="#2b2b2b" textLength="11.68" lengthAdjust="spacingAndGlyphs" >30</text>
<line x1="418.40" y1="428.70" x2="422.60" y2="428.70" stroke="#555" stroke-width="1"/>
<text x="404.93" y="432.40" font-size="10.5" fill="#2b2b2b" textLength="11.68" lengthAdjust="spacingAndGlyphs" >40</text>
<line x1="418.40" y1="405.60" x2="422.60" y2="405.60" stroke="#555" stroke-width="1"/>
<text x="404.93" y="409.30" font-size="10.5" fill="#2b2b2b" textLength="11.68" lengthAdjust="spacingAndGlyphs" >50</text>
<line x1="418.40" y1="382.50" x2="422.60" y2="382.50" stroke="#555" stroke-width="1"/>
<text x="404.93" y="386.20" font-size="10.5" fill="#2b2b2b" textLength="11.68" lengthAdjust="spacingAndGlyphs" >60</text>
<line x1="443.60" y1="521.10" x2="443.60" y2="525.10" stroke="#333" stroke-width="1"/>
<rect x="430.85" y="516.45" width="9.60" height="4.65" fill="#0000ff" stroke="#1c1c1c" stroke-width="0.9"/>
<line x1="435.65" y1="516.00" x2="435.65" y2="513.40" stroke="#333" stroke-width="1"/>
<line x1="432.65" y1="513.40" x2="438.65" y2="513.40" stroke="#333" stroke-width="1.2"/>
<line x1="485.80" y1="521.10" x2="485.80" y2="525.10" stroke="#333" stroke-width="1"/>
<rect x="473.05" y="452.55" width="9.60" height="68.55" fill="#0000ff" stroke="#1c1c1c" stroke-width="0.9"/>
<line x1="477.85" y1="452.10" x2="477.85" y2="431.30" stroke="#333" stroke-width="1"/>
<line x1="474.85" y1="431.30" x2="480.85" y2="431.30" stroke="#333" stroke-width="1.2"/>
<rect x="489.05" y="510.25" width="9.60" height="10.85" fill="#f94242" stroke="#1c1c1c" stroke-width="0.9"/>
<line x1="493.85" y1="509.80" x2="493.85" y2="504.60" stroke="#333" stroke-width="1"/>
<line x1="490.85" y1="504.60" x2="496.85" y2="504.60" stroke="#333" stroke-width="1.2"/>
<line x1="528.00" y1="521.10" x2="528.00" y2="525.10" stroke="#333" stroke-width="1"/>
<rect x="515.25" y="427.75" width="9.60" height="93.35" fill="#0000ff" stroke="#1c1c1c" stroke-width="0.9"/>
<line x1="520.05" y1="427.30" x2="520.05" y2="419.00" stroke="#333" stroke-width="1"/>
<line x1="517.05" y1="419.00" x2="523.05" y2="419.00" stroke="#333" stroke-width="1.2"/>
<rect x="531.25" y="499.85" width="9.60" height="21.25" fill="#f94242" stroke="#1c1c1c" stroke-width="0.9"/>
<line x1="536.05" y1="499.40" x2="536.05" y2="487.00" stroke="#333" stroke-width="1"/>
<line x1="533.05" y1="487.00" x2="539.05" y2="487.00" stroke="#333" stroke-width="1.2"/>
<line x1="570.20" y1="521.10" x2="570.20" y2="525.10" stroke="#333" stroke-width="1"/>
<rect x="557.45" y="463.85" width="9.60" height="57.25" fill="#0000ff" stroke="#1c1c1c" stroke-width="0.9"/>
<line x1="562.25" y1="463.40" x2="562.25" y2="447.80" stroke="#333" stroke-width="1"/>
<line x1="559.25" y1="447.80" x2="565.25" y2="447.80" stroke="#333" stroke-width="1.2"/>
<rect x="573.45" y="518.95" width="9.60" height="2.15" fill="#f94242" stroke="#1c1c1c" stroke-width="0.9"/>
<line x1="578.25" y1="518.50" x2="578.25" y2="517.40" stroke="#333" stroke-width="1"/>
<line x1="575.25" y1="517.40" x2="581.25" y2="517.40" stroke="#333" stroke-width="1.2"/>
<line x1="612.40" y1="521.10" x2="612.40" y2="525.10" stroke="#333" stroke-width="1"/>
<rect x="599.65" y="519.75" width="9.60" height="1.35" fill="#0000ff" stroke="#1c1c1c" stroke-width="0.9"/>
<line x1="604.45" y1="519.30" x2="604.45" y2="517.70" stroke="#333" stroke-width="1"/>
<line x1="601.45" y1="517.70" x2="607.45" y2="517.70" stroke="#333" stroke-width="1.2"/>
<line x1="620.45" y1="521.00" x2="620.45" y2="519.60" stroke="#333" stroke-width="1"/>
<line x1="617.45" y1="519.60" x2="623.45" y2="519.60" stroke="#333" stroke-width="1.2"/>
<text x="421.42" y="535.60" font-size="10.5" fill="#2b2b2b" textLength="44.86" lengthAdjust="spacingAndGlyphs" >untreated</text>
<text x="475.94" y="535.60" font-size="10.5" fill="#2b2b2b" textLength="17.97" lengthAdjust="spacingAndGlyphs" >Dox</text>
<text x="520.37" y="535.60" font-size="10.5" fill="#2b2b2b" textLength="14.51" lengthAdjust="spacingAndGlyphs" >Cis</text>
<text x="564.25" y="535.60" font-size="10.5" fill="#2b2b2b" textLength="14.03" lengthAdjust="spacingAndGlyphs" >Vin</text>
<text x="600.47" y="535.60" font-size="10.5" fill="#2b2b2b" textLength="23.23" lengthAdjust="spacingAndGlyphs" >GDC</text>
<rect x="613.4" y="376.20" width="15.2" height="6.9" fill="#0000ff" stroke="#1c1c1c" stroke-width="0.9"/>
<text x="639.48" y="383.60" font-size="11.2" fill="#2b2b2b" textLength="34.85" lengthAdjust="spacingAndGlyphs" >DMSO</text>
<rect x="613.4" y="391.10" width="15.2" height="6.9" fill="#f94242" stroke="#1c1c1c" stroke-width="0.9"/>
<text x="639.48" y="398.50" font-size="11.2" fill="#2b2b2b" textLength="44.17" lengthAdjust="spacingAndGlyphs" >DNA-PKi</text>
<text x="489.66" y="507.05" font-size="12" fill="#333" style="stroke-width:0.1px">*</text>
<text x="494.96" y="507.05" font-size="12" fill="#333" style="stroke-width:0.1px">*</text>
<text x="528.66" y="490.45" font-size="12" fill="#333" style="stroke-width:0.1px">*</text>
<text x="534.16" y="490.45" font-size="12" fill="#333" style="stroke-width:0.1px">*</text>
<text x="539.56" y="490.45" font-size="12" fill="#333" style="stroke-width:0.1px">*</text>
<text x="574.26" y="519.15" font-size="12" fill="#333" style="stroke-width:0.1px">*</text>
<text x="579.46" y="519.15" font-size="12" fill="#333" style="stroke-width:0.1px">*</text>
<rect x="113.04" y="23.39" width="2.43" height="2.01" fill="#fff"/>
<rect x="116.47" y="23.39" width="2.35" height="2.01" fill="#fff"/>
<rect x="19.59" y="178.22" width="2.49" height="2.01" fill="#fff"/>
<rect x="23.11" y="178.22" width="2.41" height="2.01" fill="#fff"/>
<rect x="19.59" y="155.09" width="2.49" height="2.01" fill="#fff"/>
<rect x="23.11" y="155.09" width="2.41" height="2.01" fill="#fff"/>
<rect x="95.64" y="303.61" width="2.46" height="1.99" fill="#fff"/>
<rect x="99.10" y="303.61" width="2.37" height="1.99" fill="#fff"/>
<rect x="145.28" y="303.61" width="2.46" height="1.99" fill="#fff"/>
<rect x="148.75" y="303.61" width="2.37" height="1.99" fill="#fff"/>
<rect x="196.36" y="303.61" width="2.46" height="1.99" fill="#fff"/>
<rect x="199.82" y="303.61" width="2.37" height="1.99" fill="#fff"/>
<rect x="235.98" y="303.61" width="2.46" height="1.99" fill="#fff"/>
<rect x="239.44" y="303.61" width="2.37" height="1.99" fill="#fff"/>
<rect x="350.48" y="162.44" width="2.67" height="2.06" fill="#fff"/>
<rect x="354.30" y="162.44" width="2.58" height="2.06" fill="#fff"/>
<rect x="25.43" y="500.51" width="2.49" height="2.01" fill="#fff"/>
<rect x="28.95" y="500.51" width="2.41" height="2.01" fill="#fff"/>
<rect x="96.44" y="532.41" width="2.46" height="1.99" fill="#fff"/>
<rect x="99.90" y="532.41" width="2.37" height="1.99" fill="#fff"/>
<rect x="146.08" y="532.41" width="2.46" height="1.99" fill="#fff"/>
<rect x="149.55" y="532.41" width="2.37" height="1.99" fill="#fff"/>
<rect x="197.16" y="532.41" width="2.46" height="1.99" fill="#fff"/>
<rect x="200.62" y="532.41" width="2.37" height="1.99" fill="#fff"/>
<rect x="236.78" y="532.41" width="2.46" height="1.99" fill="#fff"/>
<rect x="240.24" y="532.41" width="2.37" height="1.99" fill="#fff"/>
<rect x="350.48" y="398.04" width="2.67" height="2.06" fill="#fff"/>
<rect x="354.30" y="398.04" width="2.58" height="2.06" fill="#fff"/>
<g transform="translate(13.60,522.60) rotate(-90) scale(1,1.08)"><rect x="122.95" y="-1.21" width="2.61" height="1.91" fill="#fff"/><rect x="126.72" y="-1.21" width="2.52" height="1.91" fill="#fff"/></g>
<g transform="translate(396.00,522.80) rotate(-90) scale(1,1.08)"><rect x="122.95" y="-1.21" width="2.61" height="1.91" fill="#fff"/><rect x="126.72" y="-1.21" width="2.52" height="1.91" fill="#fff"/></g>
<rect x="399.19" y="176.22" width="2.49" height="2.01" fill="#fff"/>
<rect x="402.71" y="176.22" width="2.41" height="2.01" fill="#fff"/>
<rect x="399.19" y="153.09" width="2.49" height="2.01" fill="#fff"/>
<rect x="402.71" y="153.09" width="2.41" height="2.01" fill="#fff"/>
<rect x="405.03" y="500.59" width="2.49" height="2.01" fill="#fff"/>
<rect x="408.55" y="500.59" width="2.41" height="2.01" fill="#fff"/>
</svg></body></html>
